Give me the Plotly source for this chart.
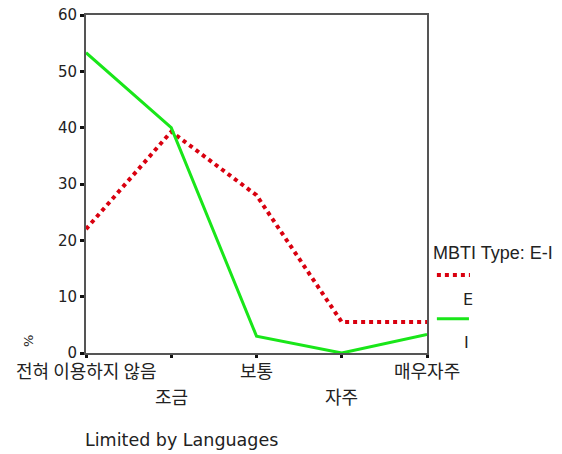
import plotly.graph_objects as go

categories = ["전혀 이용하지 않음", "조금", "보통", "자주", "매우자주"]
series_E = [22, 39.3, 28, 5.5, 5.5]
series_I = [53.3, 40, 3, 0, 3.3]
y_ticks = [0, 10, 20, 30, 40, 50, 60]
legend_title = "MBTI Type: E-I"
series_names = ["E", "I"]

FONT = "DejaVu Sans, Noto Sans CJK KR, sans-serif"
KFONT = "Noto Sans CJK KR, DejaVu Sans, sans-serif"
LFONT = "Liberation Sans, Arial, sans-serif"
xs = list(range(len(categories)))

W, H = 562, 454
L, T, PW, PH = 86, 15, 341, 338

fig = go.Figure()
fig.add_trace(go.Scatter(x=xs, y=series_E, mode="lines", name=series_names[0],
                         line=dict(color="#d9000f", width=4, dash="dot"), showlegend=False))
fig.add_trace(go.Scatter(x=xs, y=series_I, mode="lines", name=series_names[1],
                         line=dict(color="#19e619", width=3), showlegend=False))

fig.update_layout(
    width=W, height=H,
    margin=dict(l=L, r=W - L - PW, t=T, b=H - T - PH, autoexpand=False),
    paper_bgcolor="white", plot_bgcolor="white",
    font=dict(family=FONT, size=15, color="#222"),
    xaxis=dict(range=[0, 4], tickvals=xs, showticklabels=False, showgrid=False, zeroline=False,
               showline=True, linecolor="#555", linewidth=2, mirror=True, automargin=False,
               ticks="outside", ticklen=3, tickwidth=3, tickcolor="#111"),
    yaxis=dict(range=[0, 60], tickvals=y_ticks, showgrid=False, zeroline=False,
               showline=True, linecolor="#555", linewidth=2, mirror=True, automargin=False,
               ticks="outside", ticklen=4, tickwidth=3, tickcolor="#111",
               ticklabeloverflow="allow", tickfont=dict(size=15)),
    showlegend=False,
)

# category labels, staggered on two rows
for i, c in enumerate(categories):
    fig.add_annotation(text=c, xref="x", yref="paper", x=i, y=-0.049 if i % 2 == 0 else -0.126,
                       xanchor="center", yanchor="middle", showarrow=False,
                       font=dict(family=KFONT, size=18, color="#222"))

# y axis title "%"
fig.add_annotation(text="%", xref="paper", yref="paper", x=-0.167, y=0.036,
                   xanchor="center", yanchor="middle",
                   showarrow=False, textangle=-90, font=dict(size=13))

# custom legend
fig.add_annotation(text=legend_title, xref="paper", yref="paper", x=1.012, y=0.296,
                   xanchor="left", yanchor="middle", showarrow=False,
                   font=dict(family=LFONT, size=18))
fig.add_shape(type="line", xref="paper", yref="paper", x0=1.029, x1=1.126, y0=0.231, y1=0.231,
              line=dict(color="#d9000f", width=4, dash="dot"))
fig.add_annotation(text=series_names[0], xref="paper", yref="paper", x=1.12, y=0.157,
                   xanchor="center", yanchor="middle", showarrow=False,
                   font=dict(size=16))
fig.add_shape(type="line", xref="paper", yref="paper", x0=1.029, x1=1.123, y0=0.101, y1=0.101,
              line=dict(color="#19e619", width=3))
fig.add_annotation(text=series_names[1], xref="paper", yref="paper", x=1.117, y=0.03,
                   xanchor="center", yanchor="middle", showarrow=False,
                   font=dict(size=16))

fig.add_annotation(text="Limited by Languages", xref="paper", yref="paper", x=-0.01, y=-0.257,
                   xanchor="left", yanchor="middle", showarrow=False, font=dict(size=17.5))

fig.write_html("out.html", config={"displayModeBar": False},
               post_script="document.body.style.margin='0';")
